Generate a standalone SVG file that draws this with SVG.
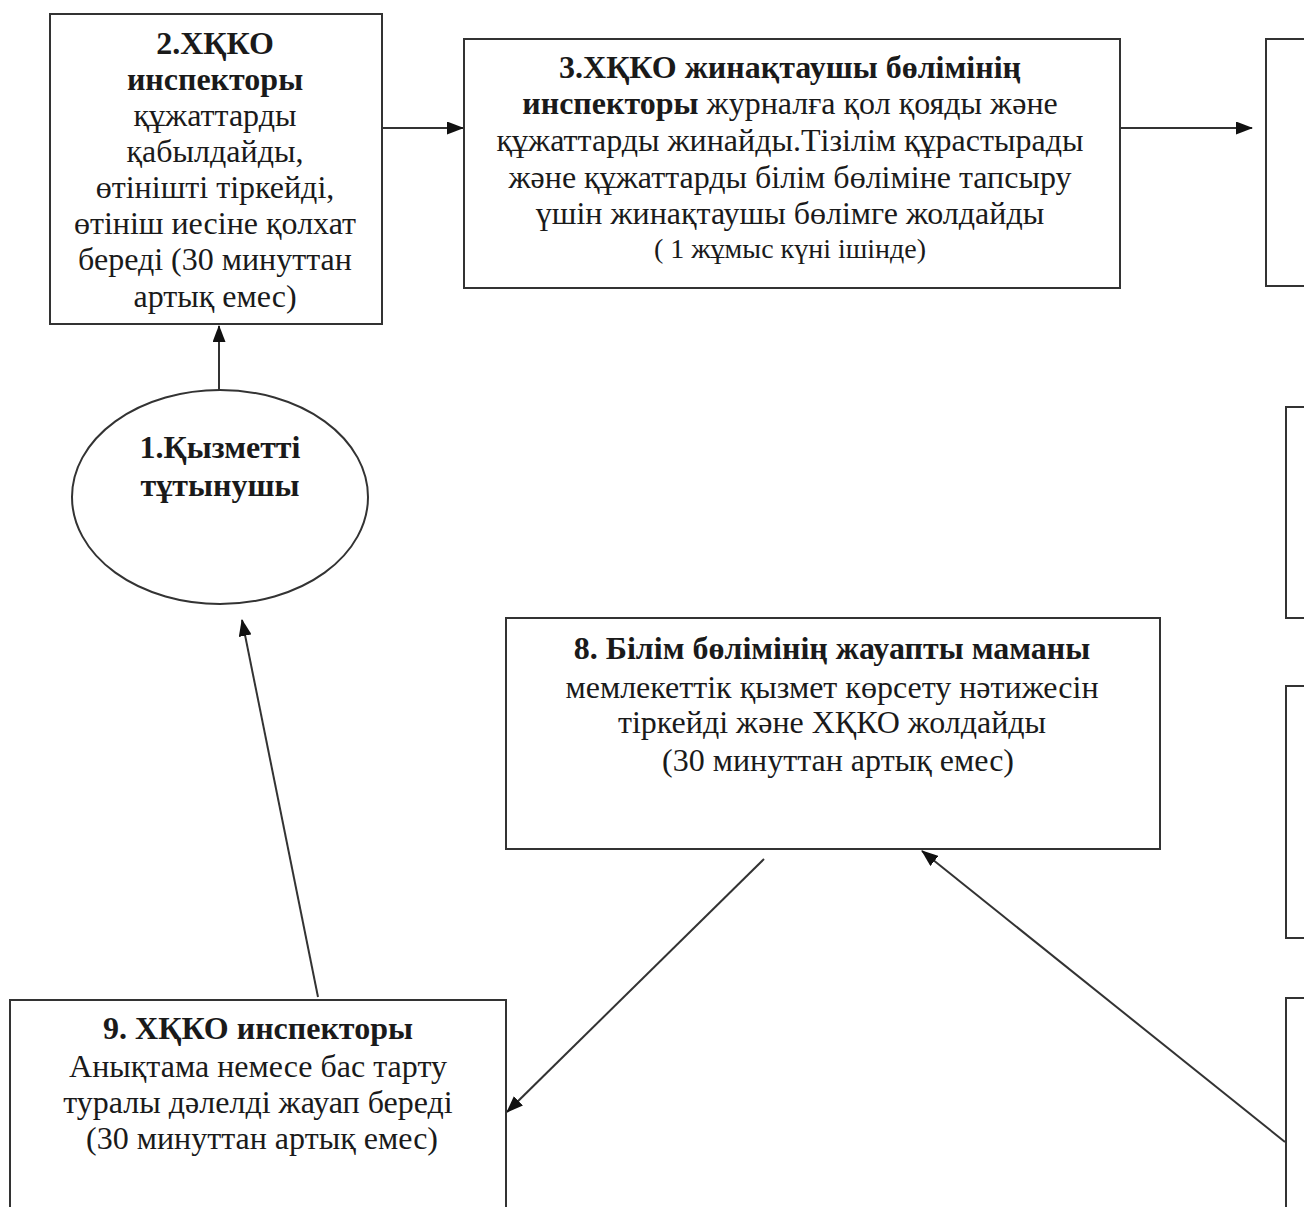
<svg xmlns="http://www.w3.org/2000/svg" width="1304" height="1207" viewBox="0 0 1304 1207">
<style>
.box{fill:#fff;stroke:#333;stroke-width:2}
.t{font-family:"Liberation Serif","Times New Roman",serif;font-size:32px;fill:#1a1a1a;text-anchor:middle}
.b{font-weight:bold}
.c{stroke:#333;stroke-width:2;fill:none;marker-end:url(#ah)}
</style>
<defs>
<marker id="ah" markerUnits="userSpaceOnUse" markerWidth="17" markerHeight="13" refX="16" refY="6.5" orient="auto">
<path d="M0,0 L17,6.5 L0,13 z" fill="#111"/>
</marker>
</defs>
<rect width="1304" height="1207" fill="#fff"/>
<g id="connectors">
<line class="c" x1="382" y1="128" x2="463" y2="128"/>
<line class="c" x1="1120" y1="128" x2="1252" y2="128"/>
<line class="c" x1="219" y1="396" x2="219" y2="326"/>
<line class="c" x1="318" y1="997" x2="242" y2="620"/>
<line class="c" x1="764" y1="859" x2="507" y2="1112"/>
<line class="c" x1="1285" y1="1142" x2="922" y2="851"/>
</g>
<g id="node2">
<rect class="box" x="50" y="14" width="332" height="310"/>
<text class="t"><tspan class="b" x="215" y="54">2.ХҚКО</tspan><tspan class="b" x="215" y="90">инспекторы</tspan><tspan x="215" y="126">құжаттарды</tspan><tspan x="215" y="162">қабылдайды,</tspan><tspan x="215" y="198">өтінішті тіркейді,</tspan><tspan x="215" y="234">өтініш иесіне қолхат</tspan><tspan x="215" y="270">береді (30 минуттан</tspan><tspan x="215" y="307">артық емес)</tspan></text>
</g>
<g id="node3">
<rect class="box" x="464" y="39" width="656" height="249"/>
<text class="t"><tspan class="b" x="790" y="78">3.ХҚКО жинақтаушы бөлімінің</tspan><tspan x="790" y="114"><tspan class="b">инспекторы</tspan> журналға қол қояды және</tspan><tspan x="790" y="151">құжаттарды жинайды.Тізілім құрастырады</tspan><tspan x="790" y="188">және құжаттарды білім бөліміне тапсыру</tspan><tspan x="790" y="224">үшін жинақтаушы бөлімге жолдайды</tspan></text>
<text class="t" x="790" y="258" style="font-size:28px">( 1 жұмыс күні ішінде)</text>
</g>
<g id="node4">
<rect class="box" x="1266" y="39" width="100" height="247"/>
</g>
<g id="node5">
<rect class="box" x="1286" y="407" width="100" height="211"/>
</g>
<g id="node6">
<rect class="box" x="1286" y="686" width="100" height="252"/>
</g>
<g id="node7">
<rect class="box" x="1286" y="998" width="100" height="230"/>
</g>
<g id="node1">
<ellipse class="box" cx="220" cy="497" rx="148" ry="107"/>
<text class="t b"><tspan x="220" y="458">1.Қызметті</tspan><tspan x="220" y="496">тұтынушы</tspan></text>
</g>
<g id="node8">
<rect class="box" x="506" y="618" width="654" height="231"/>
<text class="t"><tspan class="b" x="832" y="659">8. Білім бөлімінің жауапты маманы</tspan><tspan x="832" y="698">мемлекеттік қызмет көрсету нәтижесін</tspan><tspan x="832" y="733">тіркейді және ХҚКО жолдайды</tspan><tspan x="838" y="771">(30 минуттан артық емес)</tspan></text>
</g>
<g id="node9">
<rect class="box" x="10" y="1000" width="496" height="230"/>
<text class="t"><tspan class="b" x="258" y="1039">9. ХҚКО инспекторы</tspan><tspan x="258" y="1077">Анықтама немесе бас тарту</tspan><tspan x="258" y="1113">туралы дәлелді жауап береді</tspan><tspan x="262" y="1149">(30 минуттан артық емес)</tspan></text>
</g>
</svg>
